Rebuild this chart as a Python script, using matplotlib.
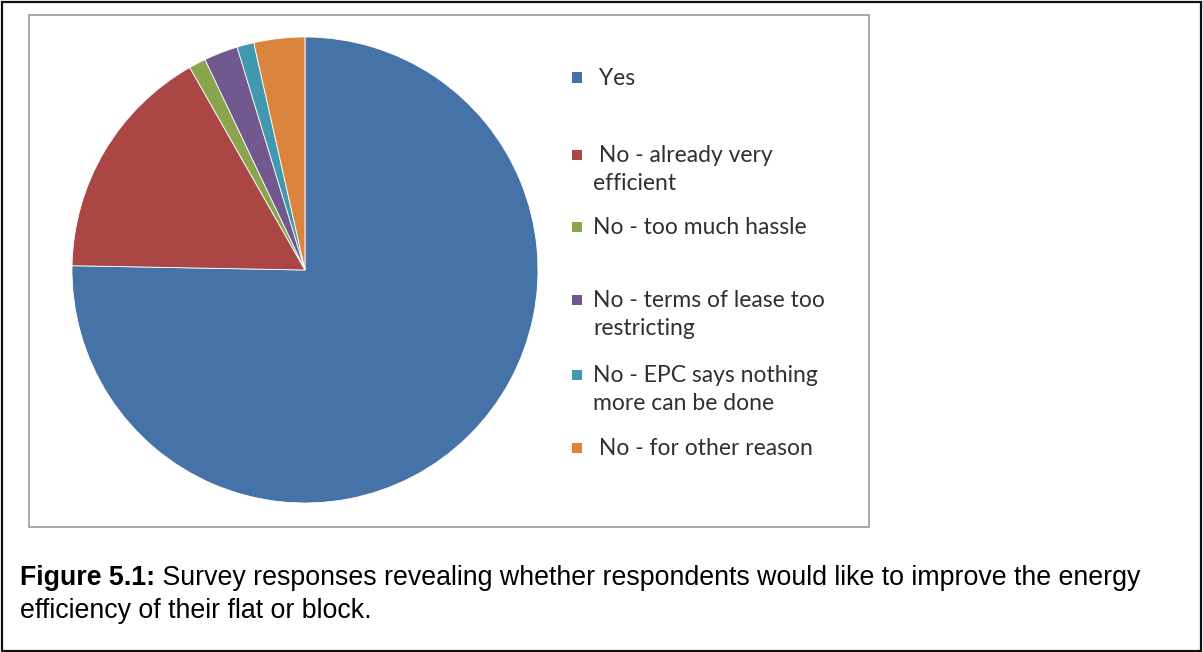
import matplotlib
matplotlib.use("Agg")
import matplotlib.pyplot as plt
from matplotlib.patches import Rectangle

# Survey responses (number of respondents per answer)
labels = [
    " Yes",
    " No - already very\nefficient",
    "No - too much hassle",
    "No - terms of lease too\nrestricting",
    "No - EPC says nothing\nmore can be done",
    " No - for other reason",
]
counts = [64, 14, 1, 2, 1, 3]
colors = ["#4572A7", "#AA4643", "#89A54E", "#71588F", "#4198AF", "#DB843D"]

caption_bold = "Figure 5.1:"
caption_rest = " Survey responses revealing whether respondents would like to improve the energy"
caption_line2 = "efficiency of their flat or block."

W, H = 1203, 652
fig = plt.figure(figsize=(W / 100, H / 100), dpi=100)
fig.patch.set_facecolor("white")


def fx(px):
    return px / W


def fy(py):
    return 1 - py / H


# outer page frame
fig.patches.append(Rectangle((fx(2), fy(651)), fx(1199), 649 / H,
                             transform=fig.transFigure, fill=False,
                             edgecolor="#111111", linewidth=1.6))
# chart area frame
fig.patches.append(Rectangle((fx(29), fy(527)), fx(840), 512 / H,
                             transform=fig.transFigure, fill=False,
                             edgecolor="#a8a8a8", linewidth=1.4))

# pie
cx, cy, r = 305, 270, 233
ax = fig.add_axes([fx(cx - r), fy(cy + r), 2 * r / W, 2 * r / H])
ax.pie(counts, colors=colors, startangle=90, counterclock=False, radius=1.0,
       wedgeprops=dict(edgecolor="white", linewidth=0.6))
ax.set_xlim(-1, 1)
ax.set_ylim(-1, 1)
ax.set_aspect("auto")
ax.axis("off")

# legend entries, one text per line
legend_font = ["Lato", "DejaVu Sans"]
baselines = [85, 162, 234, 307, 382, 455]
line_step = 28
sq = 10
for lab, col, base in zip(labels, colors, baselines):
    fig.patches.append(Rectangle((fx(572), fy(base - 2.5)), sq / W, sq / H,
                                 transform=fig.transFigure, facecolor=col,
                                 edgecolor="none"))
    for i, line in enumerate(lab.split("\n")):
        fig.text(fx(593), fy(base + i * line_step), line, fontsize=16.5,
                 family=legend_font, color="#303030", ha="left", va="baseline")

# caption
cap_font = ["Liberation Sans", "DejaVu Sans"]
cap_size = 19.25
t_bold = fig.text(fx(20), fy(585), caption_bold, fontsize=cap_size, family=cap_font,
                  fontweight="bold", ha="left", va="baseline")
fig.canvas.draw()
bb = t_bold.get_window_extent()
fig.text(bb.x1 / W, fy(585), caption_rest, fontsize=cap_size, family=cap_font,
         ha="left", va="baseline")
fig.text(fx(20), fy(618), caption_line2, fontsize=cap_size, family=cap_font,
         ha="left", va="baseline")

fig.savefig("out.png", dpi=100)
